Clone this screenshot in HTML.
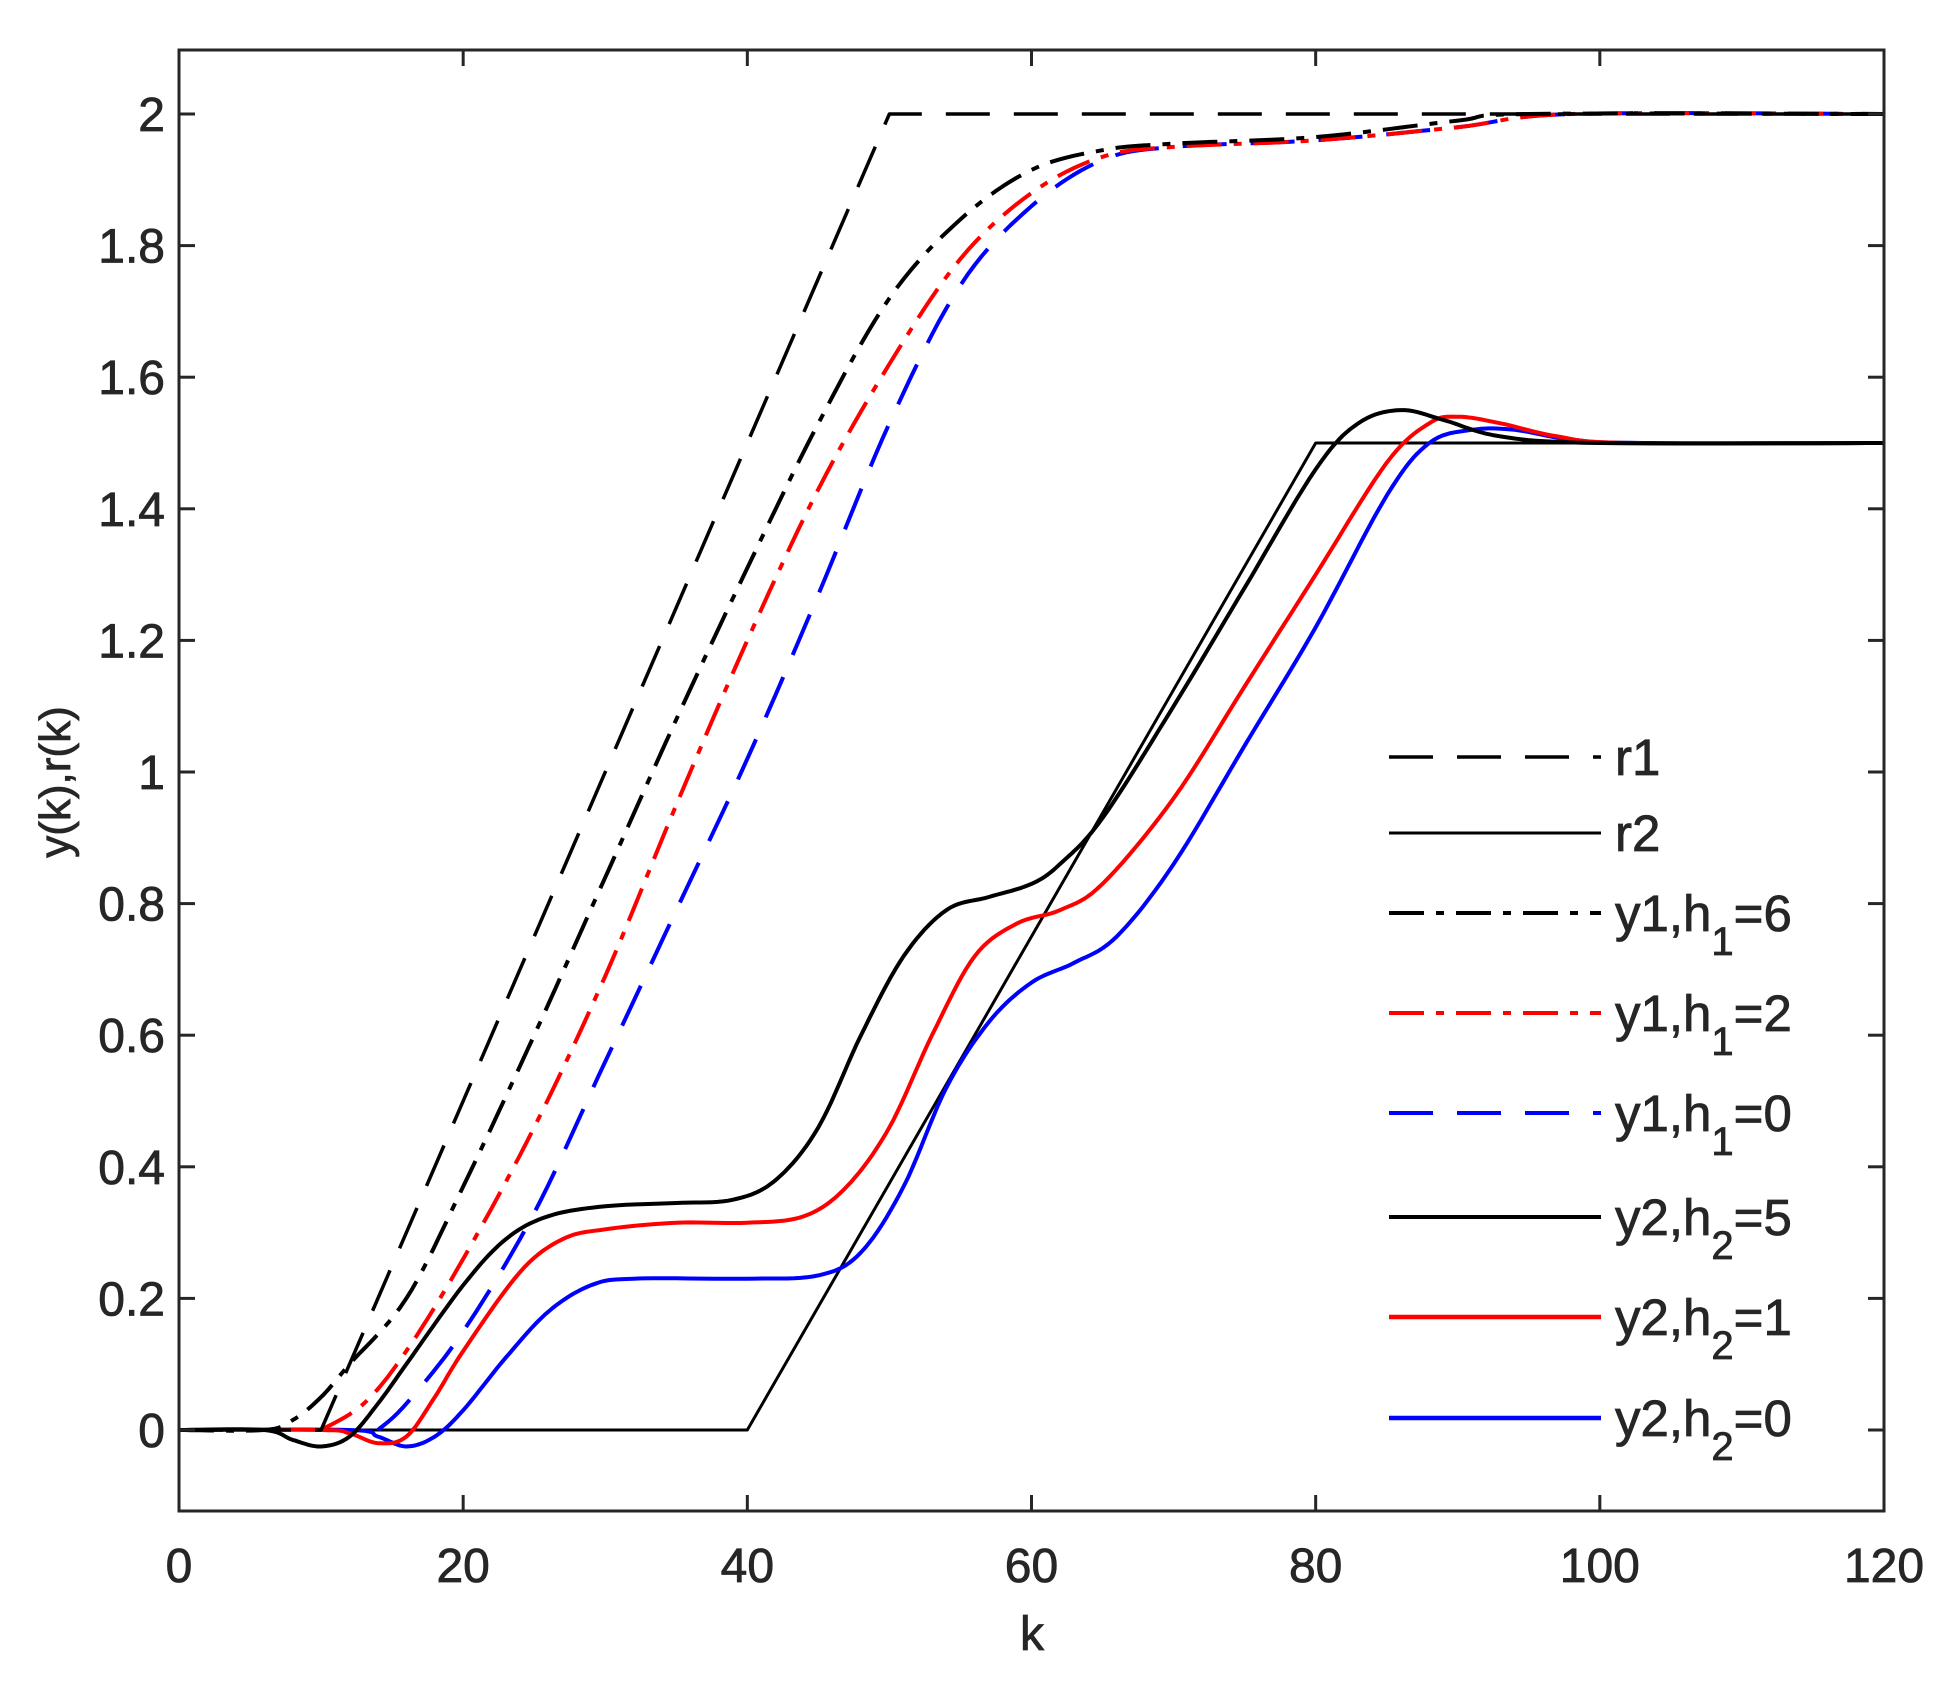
<!DOCTYPE html>
<html><head><meta charset="utf-8"><style>
html,body{margin:0;padding:0;background:#fff;}
svg{display:block;}
text{font-family:"Liberation Sans",Arial,sans-serif;fill:#262626;stroke:#262626;stroke-width:0.8px;}
</style></head><body>
<svg id="s" width="1960" height="1691" xmlns="http://www.w3.org/2000/svg">
<rect width="1960" height="1691" fill="#fff"/>
<g id="plot"></g>
<rect x="179" y="50" width="1705" height="1461" fill="none" stroke="#262626" stroke-width="3"/>
<g id="ticks"></g>
<text x="1032" y="1650" font-size="48" text-anchor="middle">k</text>
<text transform="translate(70,782) rotate(-90)" font-size="44" text-anchor="middle">y(k),r(k)</text>
<g id="leg" font-size="51"></g>
</svg>
<script>
const L=179,R=1884,T=50,B=1511;
const X=k=>L+k*(R-L)/120, Y0=1430, SY=658, Y=v=>Y0-v*SY;
const NS="http://www.w3.org/2000/svg";
function el(p,n,a,t){const e=document.createElementNS(NS,n);for(const k in a)e.setAttribute(k,a[k]);if(t!=null)e.textContent=t;p.appendChild(e);return e;}
const tk=document.getElementById('ticks');
for(let k=0;k<=120;k+=20){const x=X(k);el(tk,'line',{x1:x,y1:B,x2:x,y2:B-16,stroke:'#262626','stroke-width':3});el(tk,'line',{x1:x,y1:T,x2:x,y2:T+16,stroke:'#262626','stroke-width':3});el(tk,'text',{x:x,y:1582,'font-size':48,'text-anchor':'middle'},String(k));}
for(let i=0;i<=10;i++){const v=i*0.2,y=Y(v);el(tk,'line',{x1:L,y1:y,x2:L+16,y2:y,stroke:'#262626','stroke-width':3});el(tk,'line',{x1:R,y1:y,x2:R-16,y2:y,stroke:'#262626','stroke-width':3});let s=(Math.round(v*10)/10).toString();el(tk,'text',{x:165,y:y+17,'font-size':48,'text-anchor':'end'},s);}
function cr(pts){let d='M'+X(pts[0][0]).toFixed(1)+' '+Y(pts[0][1]).toFixed(1);
for(let i=0;i<pts.length-1;i++){const p0=pts[Math.max(0,i-1)],p1=pts[i],p2=pts[i+1],p3=pts[Math.min(pts.length-1,i+2)];
for(let t=1;t<=10;t++){const u=t/10,u2=u*u,u3=u2*u;
const f=(a,b,c,d)=>0.5*((2*b)+(-a+c)*u+(2*a-5*b+4*c-d)*u2+(-a+3*b-3*c+d)*u3);
d+=' L'+X(f(p0[0],p1[0],p2[0],p3[0])).toFixed(1)+' '+Y(f(p0[1],p1[1],p2[1],p3[1])).toFixed(1);}}
return d;}
const pl=document.getElementById('plot');
const DASH='44 24', DD='35 12 8 12';
const series=[
{c:'#000',d:'',w:3,p:'lin',pts:[[0,0],[40,0],[80,1.5],[120,1.5]]},
{c:'#00f',d:'',w:4,pts:[[0,0],[12,0],[14,-0.01],[16,-0.025],[18,-0.01],[20,0.03],[23,0.11],[26,0.18],[29,0.22],[32,0.23],[40,0.23],[45,0.235],[48,0.27],[51,0.37],[54,0.52],[57,0.62],[60,0.68],[63,0.71],[66,0.75],[70,0.86],[75,1.04],[80,1.22],[85,1.42],[88,1.5],[91,1.52],[94,1.52],[98,1.505],[103,1.5],[120,1.5]]},
{c:'#f00',d:'',w:4,pts:[[0,0],[10,0],[12,-0.005],[14,-0.02],[16,-0.01],[18,0.05],[20,0.12],[24,0.24],[27,0.29],[30,0.305],[35,0.315],[40,0.315],[44,0.325],[47,0.37],[50,0.46],[53,0.6],[56,0.72],[59,0.77],[62,0.79],[65,0.83],[70,0.96],[75,1.13],[80,1.3],[85,1.47],[88,1.53],[90,1.54],[93,1.53],[97,1.51],[102,1.5],[120,1.5]]},
{c:'#000',d:'',w:4,pts:[[0,0],[6,0],[8,-0.015],[10,-0.025],[12,-0.01],[14,0.04],[16,0.1],[20,0.22],[23,0.29],[26,0.325],[30,0.34],[35,0.345],[39,0.35],[42,0.38],[45,0.46],[48,0.6],[51,0.72],[54,0.79],[57,0.81],[60,0.83],[62,0.86],[65,0.93],[70,1.1],[75,1.28],[80,1.46],[83,1.53],[86,1.55],[89,1.535],[93,1.51],[100,1.5],[120,1.5]]},
{c:'#00f',d:DASH,w:4,pts:[[14,0],[16,0.04],[20,0.15],[25,0.33],[30,0.56],[35,0.79],[40,1.02],[45,1.27],[50,1.53],[55,1.74],[60,1.86],[65,1.93],[70,1.95],[80,1.96],[90,1.98],[98,2],[120,2]]},
{c:'#f00',d:DD,w:4,pts:[[10,0],[13,0.04],[16,0.12],[20,0.26],[25,0.46],[30,0.69],[35,0.95],[40,1.2],[45,1.43],[50,1.62],[55,1.78],[60,1.88],[65,1.935],[70,1.95],[80,1.96],[90,1.98],[98,2],[120,2]]},
{c:'#000',d:DD,w:4,pts:[[0,0],[6,0],[8,0.015],[10,0.05],[12,0.1],[16,0.2],[20,0.37],[25,0.6],[30,0.84],[35,1.08],[40,1.31],[45,1.53],[50,1.72],[55,1.84],[60,1.915],[65,1.945],[70,1.955],[80,1.965],[90,1.99],[95,2],[120,2]]},
{c:'#000',d:DASH,w:3.5,p:'lin',pts:[[0,0],[10,0],[50,2],[120,2]]},
];
for(const s of series){let d;if(s.p==='lin'){d='M'+s.pts.map(p=>X(p[0]).toFixed(1)+' '+Y(p[1]).toFixed(1)).join(' L');}else d=cr(s.pts);
const a={d:d,fill:'none',stroke:s.c,'stroke-width':s.w,'stroke-linejoin':'round'};if(s.d)a['stroke-dasharray']=s.d;el(pl,'path',a);}
const lg=document.getElementById('leg');
const items=[['#000',DASH,'r1',null,3.5],['#000','','r2',null,3],['#000',DD,'y1,h','1=6',4],['#f00',DD,'y1,h','1=2',4],['#00f',DASH,'y1,h','1=0',4],['#000','','y2,h','2=5',4],['#f00','','y2,h','2=1',4.5],['#00f','','y2,h','2=0',4.5]];
const ys=[757,833,913,1013,1113,1217,1317,1418];
items.forEach((it,i)=>{const y=ys[i];const a={x1:1389,y1:y,x2:1601,y2:y,stroke:it[0],'stroke-width':it[4]};if(it[1])a['stroke-dasharray']=it[1];el(lg,'line',a);
const t=el(lg,'text',{x:1615,y:y+18,fill:'#000',stroke:'#000'});
if(it[3]){t.appendChild(document.createTextNode(it[2]));el(t,'tspan',{dy:24,'font-size':40},it[3][0]);el(t,'tspan',{dy:-24},it[3].slice(1));}else t.textContent=it[2];});
</script>
</body></html>
